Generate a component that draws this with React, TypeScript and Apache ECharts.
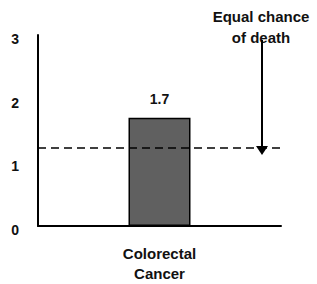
import React, { useEffect, useRef } from "react";
import * as echarts from "echarts";

const categories = ["Colorectal\nCancer"];
const values = [1.7];
const valueLabels = ["1.7"];
const referenceValue = 1.23;
const yTicks = [0, 1, 2, 3];
const annotation = "Equal chance\nof death";

const FONT = "'Liberation Sans', Arial, sans-serif";

export default function App() {
  const ref = useRef<HTMLDivElement>(null);
  useEffect(() => {
    document.body.style.margin = "0";
    if (!ref.current) return;
    const chart = echarts.init(ref.current, undefined, { renderer: "svg" });
    chart.setOption({
      animation: false,
      backgroundColor: "#ffffff",
      grid: { left: 38, right: 36, top: 35, bottom: 58, containLabel: false },
      xAxis: {
        type: "category",
        data: categories,
        axisLine: { show: true, lineStyle: { color: "#000", width: 2 } },
        axisTick: { show: false },
        axisLabel: {
          color: "#111",
          fontFamily: FONT,
          fontWeight: "bold",
          fontSize: 15,
          lineHeight: 20,
          margin: 17,
        },
      },
      yAxis: {
        type: "value",
        min: yTicks[0],
        max: yTicks[yTicks.length - 1],
        interval: 1,
        axisLine: { show: true, lineStyle: { color: "#000", width: 2 } },
        axisTick: { show: false },
        splitLine: { show: false },
        axisLabel: {
          color: "#111",
          fontFamily: FONT,
          fontWeight: "bold",
          fontSize: 14,
          margin: 19,
          verticalAlign: "top",
          lineHeight: 8,
        },
      },
      series: [
        {
          type: "bar",
          data: values,
          barWidth: 62,
          itemStyle: { color: "#606060", borderColor: "#000", borderWidth: 1.5 },
          label: {
            show: true,
            position: "top",
            distance: 12,
            formatter: (p: any) => valueLabels[p.dataIndex],
            color: "#111",
            fontFamily: FONT,
            fontWeight: "bold",
            fontSize: 14,
          },
          markLine: {
            silent: true,
            symbol: ["none", "none"],
            label: { show: false },
            lineStyle: { color: "#000", width: 1.5, type: [8, 5] },
            data: [{ yAxis: referenceValue }],
          },
        },
      ],
      graphic: [
        {
          type: "text",
          x: 261,
          y: 6,
          style: {
            text: annotation,
            fill: "#111",
            font: `bold 15px ${FONT}`,
            textAlign: "center",
            lineHeight: 21,
          },
        },
        {
          type: "line",
          shape: { x1: 262, y1: 40, x2: 262, y2: 148 },
          style: { stroke: "#000", lineWidth: 2 },
        },
        {
          type: "polygon",
          shape: { points: [[256, 146], [268, 146], [262, 155]] },
          style: { fill: "#000" },
        },
      ],
    });
    return () => chart.dispose();
  }, []);
  return <div ref={ref} style={{ width: 317, height: 284 }} />;
}
